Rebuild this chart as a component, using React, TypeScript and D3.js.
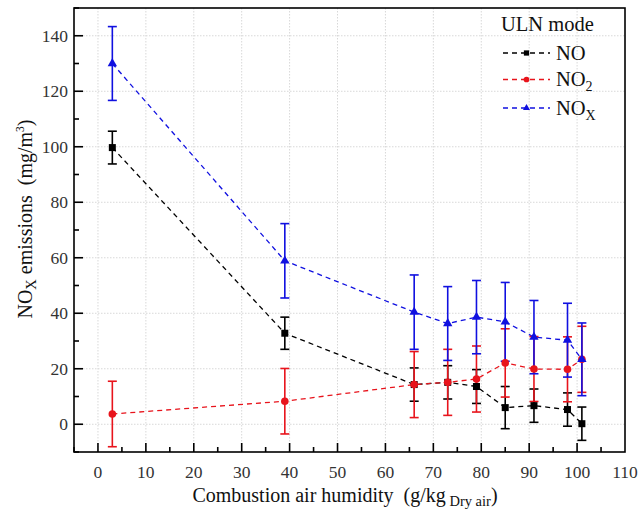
import React from "react";
import * as d3 from "d3";

const humidity = [3, 39, 66, 73, 79, 85, 91, 98, 101];
const noValues = [99.7, 32.8, 14.3, 15.1, 13.6, 6.0, 6.7, 5.3, 0.2];
const noErr = [5.9, 5.8, 6.0, 6.0, 6.1, 7.6, 6.0, 6.0, 6.0];
const no2Values = [3.7, 8.3, 14.3, 15.1, 16.3, 22.1, 19.9, 19.8, 23.4];
const no2Err = [11.8, 11.8, 11.9, 11.9, 11.9, 12.3, 11.7, 11.7, 11.9];
const noxValues = [130.0, 58.9, 40.4, 36.3, 38.6, 36.9, 31.4, 30.3, 23.4];
const noxErr = [13.3, 13.4, 13.4, 13.3, 13.2, 14.2, 13.2, 13.3, 13.1];
const xTicks = [0, 10, 20, 30, 40, 50, 60, 70, 80, 90, 100, 110];
const yTicks = [0, 20, 40, 60, 80, 100, 120, 140];

const FONT = "Liberation Serif";

export default function App() {
  const W = 639, H = 514;
  const L = 74, R = 625, T = 8, B = 452;
  const x = d3.scaleLinear().domain([-5, 110]).range([L, R]);
  const y = d3.scaleLinear().domain([-10, 150]).range([B, T]);

  const series = [
    { name: "NO", color: "#000000", vals: noValues, err: noErr, shape: "square" },
    { name: "NO2", color: "#e8141c", vals: no2Values, err: no2Err, shape: "circle" },
    { name: "NOX", color: "#1010e0", vals: noxValues, err: noxErr, shape: "triangle" },
  ];

  const line = d3.line<[number, number]>().x(d => x(d[0])).y(d => y(d[1]));

  const marker = (shape: string, cx: number, cy: number, color: string, s = 1) => {
    if (shape === "square") return <rect x={cx - 3.5 * s} y={cy - 3.5 * s} width={7 * s} height={7 * s} fill={color} />;
    if (shape === "circle") return <circle cx={cx} cy={cy} r={3.8 * s} fill={color} />;
    const p = d3.symbol().type(d3.symbolTriangle).size(38 * s * s)();
    return <path d={p || ""} transform={`translate(${cx},${cy})`} fill={color} />;
  };

  const minorX = d3.range(-5, 111, 5).filter(v => v % 10 !== 0);
  const minorY = d3.range(-10, 151, 10).filter(v => v % 20 !== 0);

  const legendRows = [
    { s: series[0], y: 53, label: <tspan>NO</tspan> },
    { s: series[1], y: 79.5, label: <><tspan>NO</tspan><tspan fontSize={14} dy={5}>2</tspan></> },
    { s: series[2], y: 108, label: <><tspan>NO</tspan><tspan fontSize={14} dy={5}>X</tspan></> },
  ];

  const ts = { fontFamily: FONT };

  return (
    <svg width={W} height={H} style={{ position: "absolute", left: 0, top: 0, background: "#fff" }}>
      <rect x={0} y={0} width={W} height={H} fill="#fff" />
      {/* grid */}
      {xTicks.filter(v => v < 110).map(v => (
        <line key={"gx" + v} x1={x(v)} x2={x(v)} y1={T} y2={B} stroke="#d8d8d8" strokeWidth={1} strokeDasharray="1.5,1.5" />
      ))}
      {yTicks.map(v => (
        <line key={"gy" + v} x1={L} x2={R} y1={y(v)} y2={y(v)} stroke="#d8d8d8" strokeWidth={1} strokeDasharray="1.5,1.5" />
      ))}
      {/* lines */}
      {series.map(s => (
        <path key={"l" + s.name} d={line(humidity.map((h, i) => [h, s.vals[i]] as [number, number])) || ""}
          fill="none" stroke={s.color} strokeWidth={1.3} strokeDasharray="5,4" />
      ))}
      {/* error bars */}
      {series.map(s => humidity.map((h, i) => {
        const cx = x(h);
        const y1 = y(s.vals[i] + s.err[i]);
        const y2 = y(s.vals[i] - s.err[i]);
        return (
          <g key={"e" + s.name + i} stroke={s.color} strokeWidth={1.6}>
            <line x1={cx} x2={cx} y1={y1} y2={y2} />
            <line x1={cx - 4.5} x2={cx + 4.5} y1={y1} y2={y1} />
            <line x1={cx - 4.5} x2={cx + 4.5} y1={y2} y2={y2} />
          </g>
        );
      }))}
      {/* markers */}
      {series.map(s => humidity.map((h, i) => (
        <g key={"m" + s.name + i}>{marker(s.shape, x(h), y(s.vals[i]), s.color)}</g>
      )))}
      {/* frame */}
      <rect x={L} y={T} width={R - L} height={B - T} fill="none" stroke="#000" strokeWidth={1.6} />
      {/* ticks */}
      {xTicks.filter(v => v < 110).map(v => (
        <line key={"tx" + v} x1={x(v)} x2={x(v)} y1={B} y2={B - 9} stroke="#000" strokeWidth={1.6} />
      ))}
      {minorX.map(v => (
        <line key={"mx" + v} x1={x(v)} x2={x(v)} y1={B} y2={B - 5} stroke="#000" strokeWidth={1.6} />
      ))}
      {yTicks.map(v => (
        <line key={"ty" + v} x1={L} x2={L + 9} y1={y(v)} y2={y(v)} stroke="#000" strokeWidth={1.6} />
      ))}
      {minorY.map(v => (
        <line key={"my" + v} x1={L} x2={L + 5} y1={y(v)} y2={y(v)} stroke="#000" strokeWidth={1.6} />
      ))}
      {/* tick labels */}
      {xTicks.map(v => (
        <text key={"lx" + v} style={ts} x={x(v)} y={477.5} textAnchor="middle" fontSize={17.5} fill="#333">{v}</text>
      ))}
      {yTicks.map(v => (
        <text key={"ly" + v} style={ts} x={68} y={y(v) + 6.2} textAnchor="end" fontSize={17.5} fill="#333">{v}</text>
      ))}
      {/* axis titles */}
      <text style={ts} x={345} y={502} textAnchor="middle" fontSize={20} fill="#111">
        <tspan>{"Combustion air humidity\u00a0\u00a0(g/kg"}</tspan>
        <tspan fontSize={14.5} dy={4}>{"\u00a0Dry air"}</tspan>
        <tspan dy={-4}>)</tspan>
      </text>
      <text style={ts} transform="translate(32,219) rotate(-90)" textAnchor="middle" fontSize={20} fill="#111">
        <tspan>NO</tspan>
        <tspan fontSize={14.5} dy={4}>X</tspan>
        <tspan dy={-4}>{"\u00a0emissions\u00a0\u00a0(mg/m"}</tspan>
        <tspan fontSize={11.5} dy={-8}>3</tspan>
        <tspan dy={8}>)</tspan>
      </text>
      {/* legend */}
      <text style={ts} x={501} y={31} fontSize={20.5} fill="#111">ULN mode</text>
      {legendRows.map(r => (
        <g key={"lg" + r.s.name}>
          <line x1={503} x2={550} y1={r.y} y2={r.y} stroke={r.s.color} strokeWidth={1.3} strokeDasharray="5,4" />
          {marker(r.s.shape, 526.5, r.y, r.s.color, 0.75)}
          <text style={ts} x={556} y={r.y + 6.5} fontSize={20.5} fill="#111">{r.label}</text>
        </g>
      ))}
    </svg>
  );
}
